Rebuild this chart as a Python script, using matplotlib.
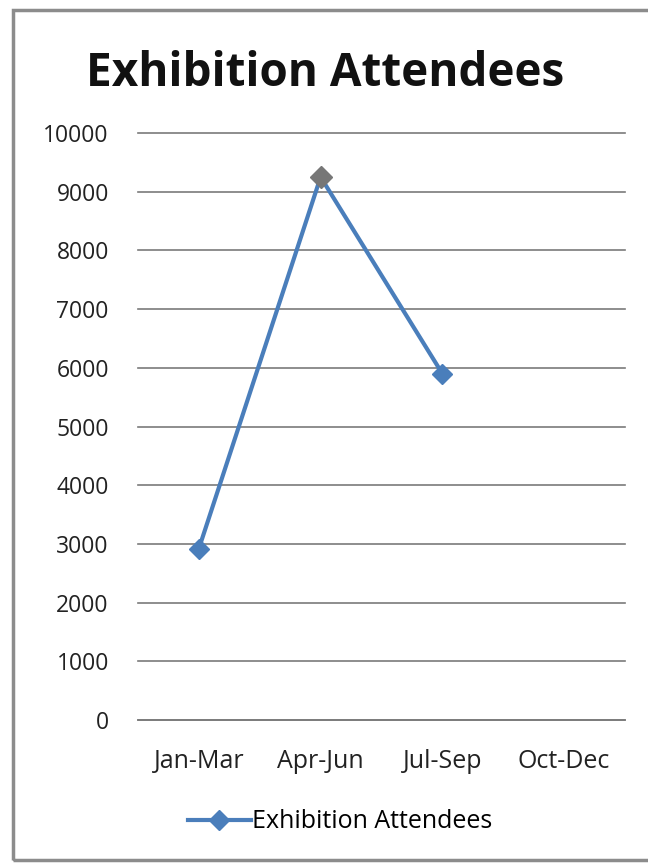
import numpy as np
import matplotlib
matplotlib.use("Agg")
import matplotlib.pyplot as plt
from matplotlib.patches import Rectangle

categories = ["Jan-Mar", "Apr-Jun", "Jul-Sep", "Oct-Dec"]
attendees = [2920, 9250, 5900, np.nan]
highlight_idx = [1]
yticks = list(range(0, 10001, 1000))
title = "Exhibition Attendees"
series_name = "Exhibition Attendees"

plt.rcParams['font.family'] = ['Open Sans', 'DejaVu Sans']

fig = plt.figure(figsize=(6.48, 8.64), dpi=100)
fig.patch.set_facecolor("white")
fig.patches.append(Rectangle((13/648, 4/864), 640/648, 850/864, transform=fig.transFigure,
                             fill=False, edgecolor="#8c8c8c", linewidth=2.5))

ax = fig.add_axes([138/648, 1 - 720/864, 487/648, 587/864])
x = np.arange(len(categories))
ax.plot(x, attendees, color="#4a7ebb", linewidth=3, marker="D", markersize=10,
        markerfacecolor="#4a7ebb", markeredgecolor="#4a7ebb", label=series_name)
hx = [x[i] for i in highlight_idx]
hy = [attendees[i] for i in highlight_idx]
ax.plot(hx, hy, linestyle="none", marker="D", markersize=11, color="#777777")

ax.set_xlim(-0.5, len(categories) - 0.5)
ax.set_ylim(0, 10000)
ax.set_yticks(yticks)
ax.set_yticklabels([str(v) for v in yticks], fontsize=16.5, color="#222222")
ax.set_xticks(x)
ax.set_xticklabels(categories, fontsize=18, color="#222222")
ax.grid(axis="y", color="#7a7a7a", linewidth=1.2)
for gl in ax.get_ygridlines():
    gl.set_clip_on(False)
ax.set_axisbelow(True)
for s in ["top", "right", "left"]:
    ax.spines[s].set_visible(False)
ax.spines["bottom"].set_color("#7a7a7a")
ax.spines["bottom"].set_linewidth(1.2)
ax.tick_params(axis="y", length=0, pad=21)
ax.tick_params(axis="x", length=0, pad=21)

fig.text(325/648, 1 - 73/864, title, ha="center", va="center", fontsize=33,
         fontweight="bold", color="#111111")

handles, labels = ax.get_legend_handles_labels()
fig.legend(handles[:1], labels[:1], loc="center", bbox_to_anchor=(340/648, 1 - 822/864),
           frameon=False, fontsize=18, handlelength=2.5, handletextpad=0.05)

fig.savefig("out.png", dpi=100, facecolor="white")
